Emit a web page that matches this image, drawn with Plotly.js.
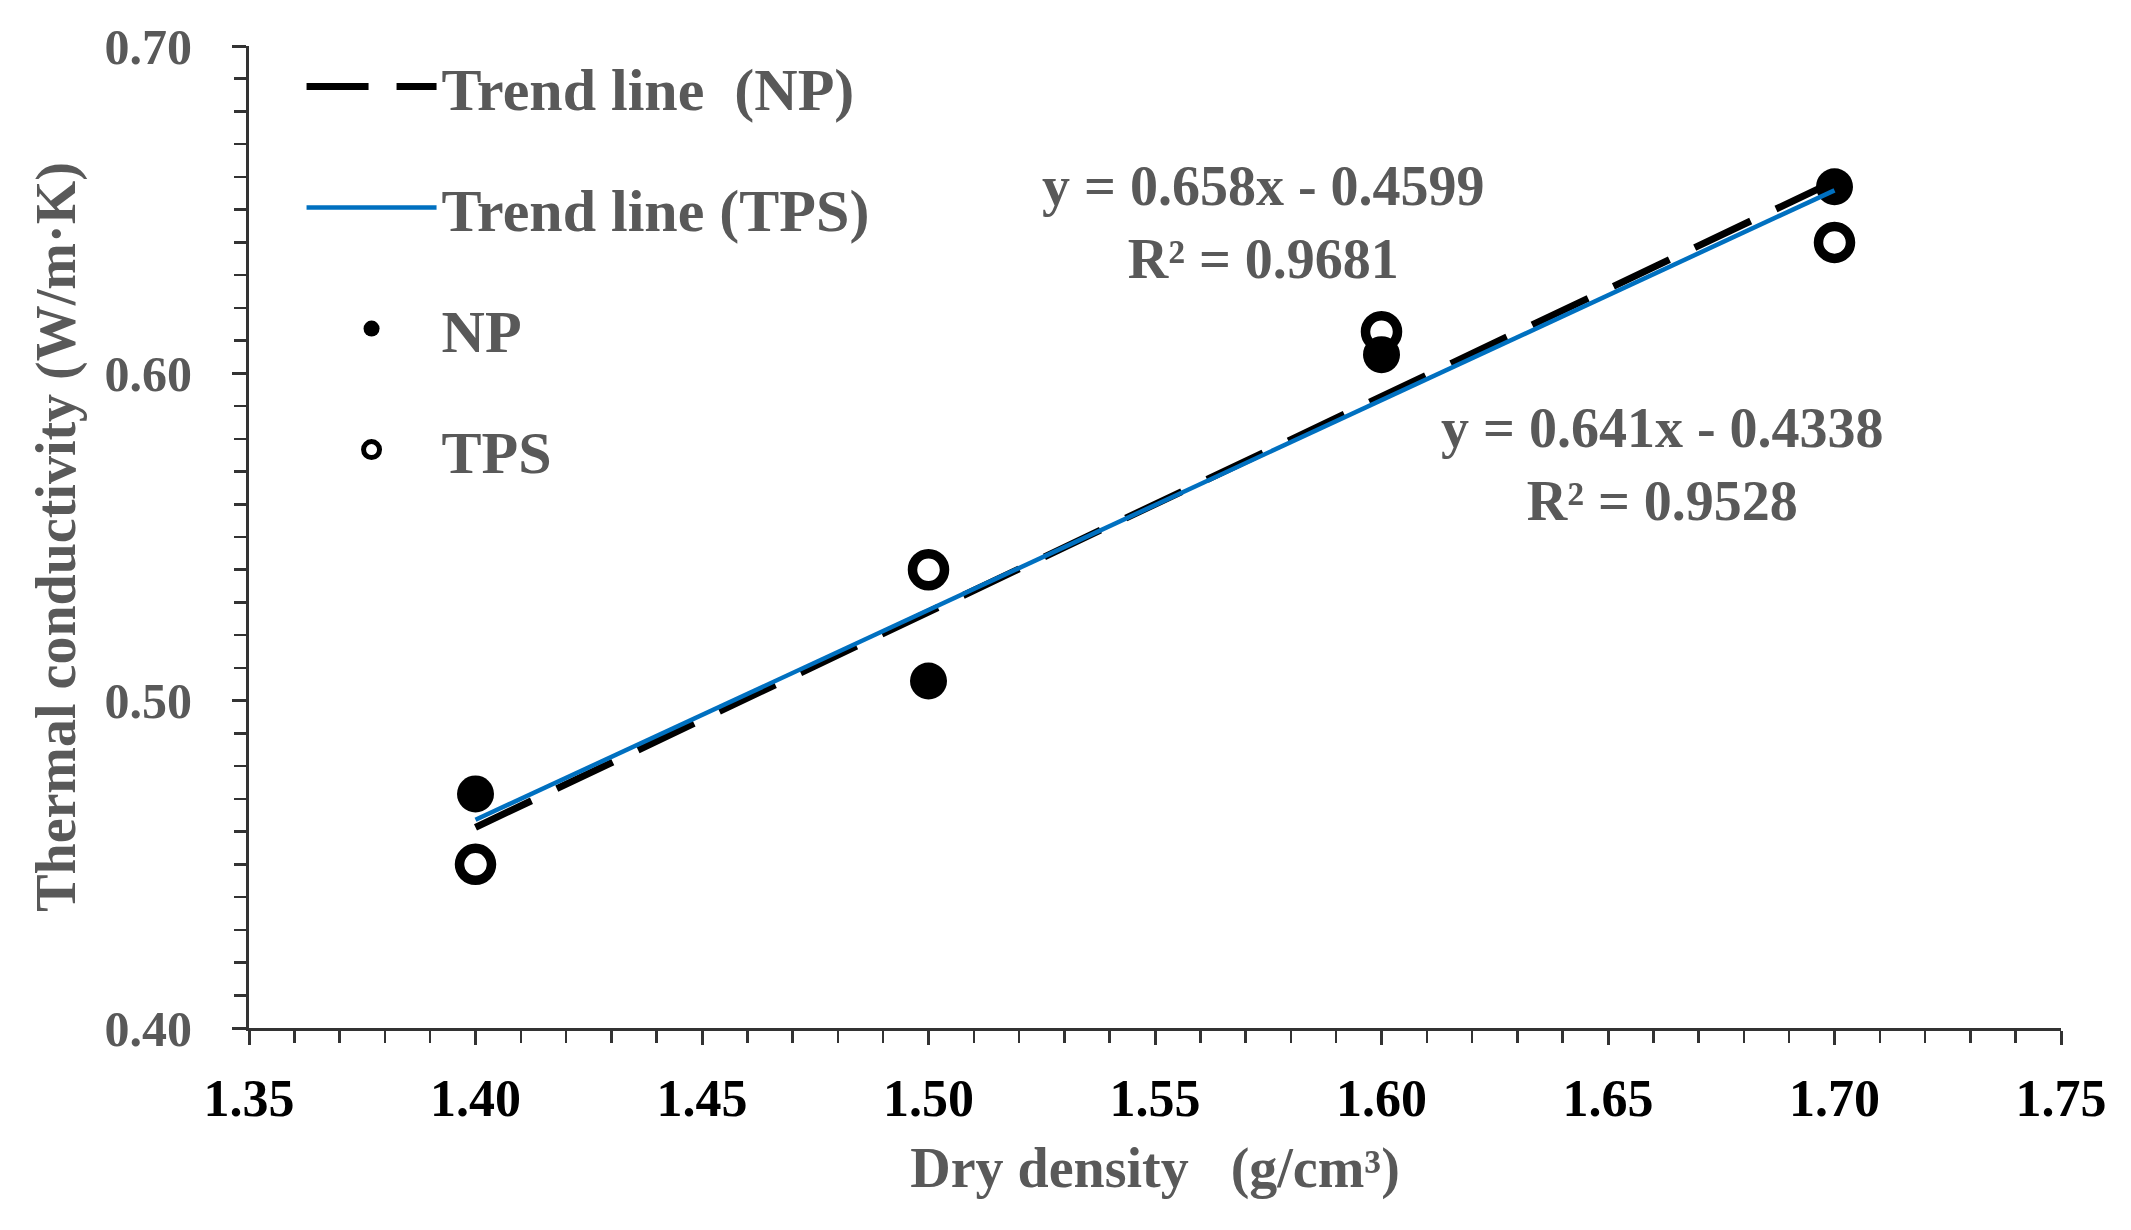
<!DOCTYPE html>
<html>
<head>
<meta charset="utf-8">
<script src="https://cdn.plot.ly/plotly-3.0.1.min.js"></script>
<style>html,body{margin:0;padding:0;background:#fff;}#chart{width:2131px;height:1230px;}</style>
</head>
<body>
<div id="chart"></div>
<script>
// ---- data ----
const dryDensity = [1.40, 1.50, 1.60, 1.70];
const npValues  = [0.4715, 0.506, 0.6057, 0.657];
const tpsValues = [0.450, 0.540, 0.6127, 0.640];
const trendNames = ['Trend line\u2002(NP)', 'Trend line (TPS)'];
const trendSlopes = [0.658, 0.641];
const trendIntercepts = [-0.4599, -0.4338];
const trendR2 = [0.9681, 0.9528];
const trendRange = [1.40, 1.70];
const seriesNames = ['NP', 'TPS'];

const FONT = '"Liberation Serif", "Times New Roman", serif';
const GRAY = '#595959';

function trendY(i) { return trendRange.map(x => trendSlopes[i] * x + trendIntercepts[i]); }
function eqText(i) {
  const b = trendIntercepts[i];
  return 'y = ' + trendSlopes[i].toFixed(3) + 'x ' + (b < 0 ? '- ' : '+ ') + Math.abs(b).toFixed(4) +
         '<br>R\u00b2 = ' + trendR2[i].toFixed(4);
}

const traces = [
  {
    x: dryDensity, y: tpsValues, name: seriesNames[1], mode: 'markers', type: 'scatter',
    legendgroup: 'g4', legendrank: 4,
    marker: {symbol: 'circle', size: 32, color: '#ffffff', line: {color: '#000000', width: 9.5}}
  },
  {
    x: dryDensity, y: npValues, name: seriesNames[0], mode: 'markers', type: 'scatter',
    legendgroup: 'g3', legendrank: 3,
    marker: {symbol: 'circle', size: 37, color: '#000000', line: {width: 0}}
  },
  {
    x: trendRange, y: trendY(0), name: trendNames[0], mode: 'lines', type: 'scatter',
    legendgroup: 'g1', legendrank: 1,
    line: {color: '#000000', width: 7, dash: '62px,28px'}
  },
  {
    x: trendRange, y: trendY(1), name: trendNames[1], mode: 'lines', type: 'scatter',
    legendgroup: 'g2', legendrank: 2,
    line: {color: '#0070C0', width: 4.5}
  }
];

const layout = {
  width: 2131, height: 1230,
  paper_bgcolor: '#ffffff', plot_bgcolor: '#ffffff',
  margin: {l: 249, r: 70, t: 46, b: 202, pad: 0},
  font: {family: FONT, color: GRAY},
  showlegend: true,
  legend: {
    x: 0.029, y: 1.005, xanchor: 'left', yanchor: 'top',
    bgcolor: 'rgba(255,255,255,0)', borderwidth: 0,
    font: {family: FONT, size: 60, color: GRAY, weight: 'bold'},
    tracegroupgap: 40, itemwidth: 130, itemsizing: 'trace'
  },
  xaxis: {
    range: [1.35, 1.75], dtick: 0.05, tick0: 1.35, tickformat: '.2f',
    showgrid: false, zeroline: false,
    showline: true, linecolor: '#333333', linewidth: 3,
    ticks: 'outside', ticklen: 14, tickwidth: 3, tickcolor: '#333333',
    minor: {dtick: 0.01, ticks: 'outside', ticklen: 12, tickwidth: 2.5, tickcolor: '#333333', showgrid: false},
    tickfont: {family: FONT, size: 52, color: '#000000', weight: 'bold'},
    ticklabelstandoff: 9,
    title: {text: 'Dry density\u2002 (g/cm\u00b3)', font: {family: FONT, size: 56, color: GRAY, weight: 'bold'}, standoff: 22}
  },
  yaxis: {
    range: [0.40, 0.70], dtick: 0.1, tick0: 0.40, tickformat: '.2f',
    showgrid: false, zeroline: false,
    showline: true, linecolor: '#333333', linewidth: 3,
    ticks: 'outside', ticklen: 14, tickwidth: 3, tickcolor: '#333333',
    minor: {dtick: 0.01, ticks: 'outside', ticklen: 12, tickwidth: 2.5, tickcolor: '#333333', showgrid: false},
    tickfont: {family: FONT, size: 50, color: GRAY, weight: 'bold'},
    ticklabelstandoff: 30,
    title: {text: 'Thermal conductivity (W/m\u00b7K)', font: {family: FONT, size: 56, color: GRAY, weight: 'bold'}, standoff: 11}
  },
  annotations: [
    {x: 1.574, y: 0.646, xref: 'x', yref: 'y', text: eqText(0), showarrow: false, align: 'center',
     font: {family: FONT, size: 56, color: GRAY, weight: 'bold'}},
    {x: 1.662, y: 0.572, xref: 'x', yref: 'y', text: eqText(1), showarrow: false, align: 'center',
     font: {family: FONT, size: 56, color: GRAY, weight: 'bold'}}
  ]
};

Plotly.newPlot('chart', traces, layout, {displayModeBar: false, staticPlot: true});
</script>
</body>
</html>
